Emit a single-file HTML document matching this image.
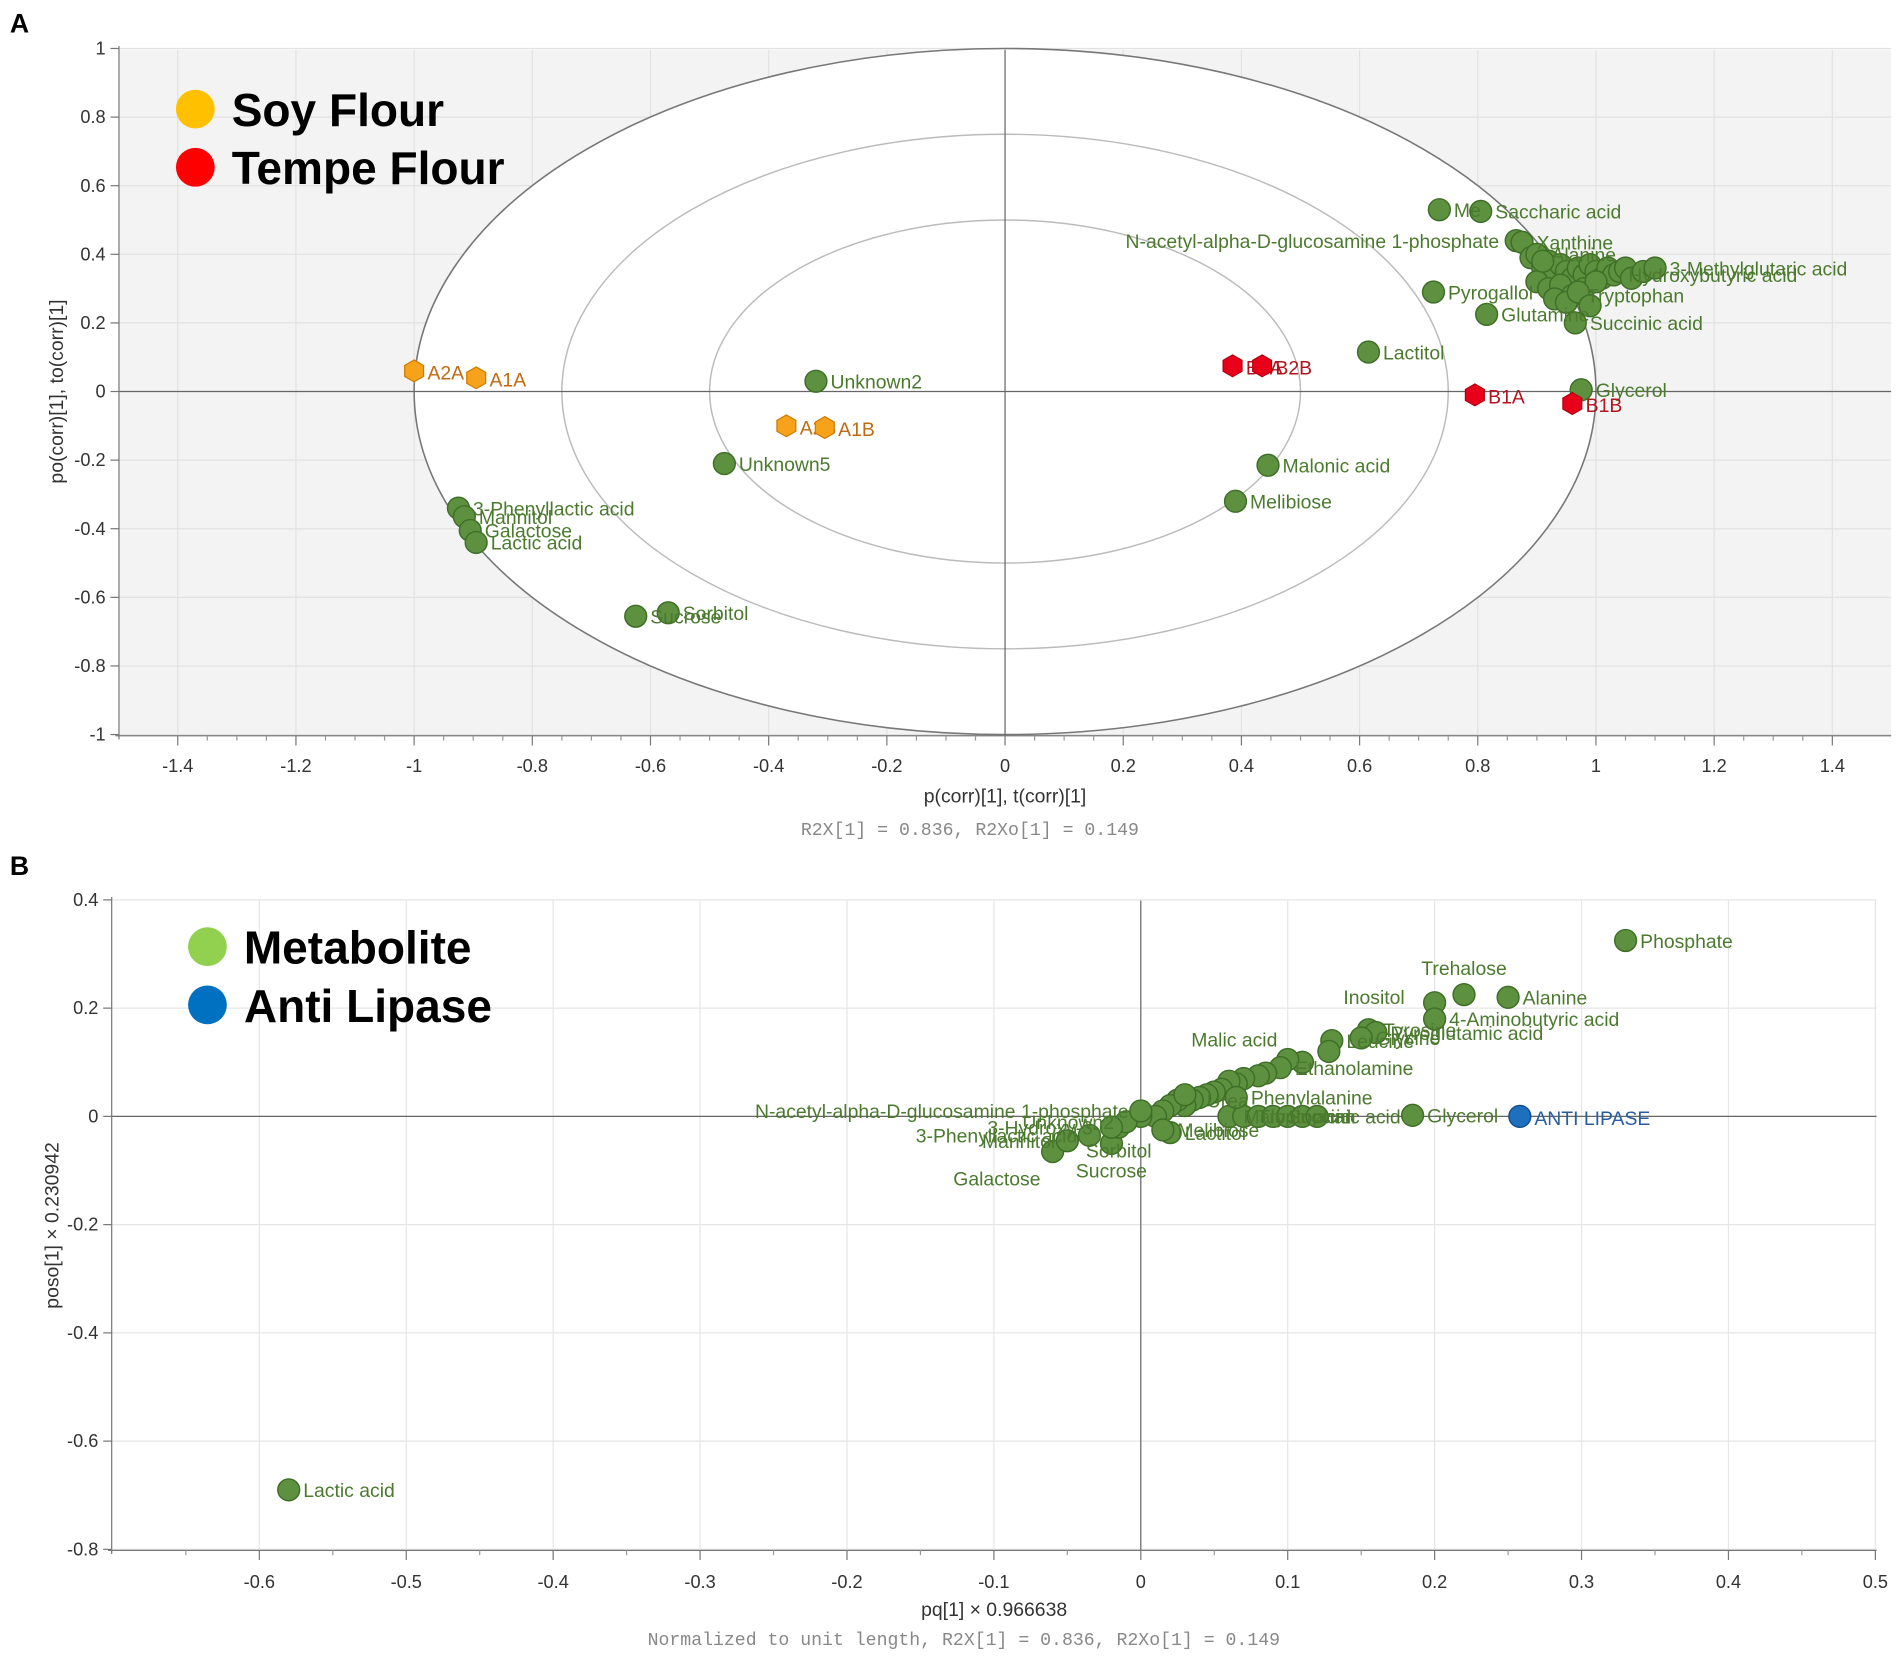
<!DOCTYPE html>
<html><head><meta charset="utf-8"><style>
html,body{margin:0;padding:0;background:#fff}
svg{display:block}
text{font-family:"Liberation Sans",sans-serif}
text.mono{font-family:"Liberation Mono",monospace}
</style></head><body>
<svg id="s" width="1901" height="1657" viewBox="0 0 1568 1367" xmlns="http://www.w3.org/2000/svg">
<text x="8" y="27" font-size="22" font-weight="bold">A</text>
<text x="8" y="722" font-size="22" font-weight="bold">B</text>
<g id="ga"></g>
<g id="gb"></g>
</svg>
<script>
// ---- Panel A data ----
const aGreenX=[0.735,0.805,0.865,0.875,0.725,0.815,0.965,0.615,0.975,0.445,0.39,-0.32,-0.475,-0.925,-0.915,-0.905,-0.895,-0.625,-0.57,
0.89,0.9,0.91,0.92,0.93,0.94,0.95,0.96,0.97,0.98,0.99,1.0,1.01,1.02,1.03,1.04,1.05,1.06,1.08,1.1,0.9,0.92,0.94,0.96,0.98,1.0,0.93,0.95,0.97,0.99,0.91];
const aGreenY=[0.53,0.525,0.44,0.435,0.29,0.225,0.2,0.115,0.005,-0.215,-0.32,0.03,-0.21,-0.34,-0.365,-0.405,-0.44,-0.655,-0.645,
0.39,0.4,0.36,0.38,0.34,0.37,0.35,0.33,0.36,0.34,0.37,0.35,0.33,0.36,0.34,0.35,0.36,0.33,0.35,0.36,0.32,0.3,0.31,0.28,0.3,0.32,0.27,0.26,0.29,0.25,0.38];
const aGreenLbl=["Me","Saccharic acid","N-acetyl-alpha-D-glucosamine 1-phosphate","Xanthine","Pyrogallol","Glutamine","Succinic acid","Lactitol","Glycerol","Malonic acid","Melibiose","Unknown2","Unknown5","3-Phenyllactic acid","Mannitol","Galactose","Lactic acid","Sucrose","Sorbitol",
"","Alanine","","","","","","","","","","","","","Hydroxybutyric acid","","","","","3-Methylglutaric acid","","","","Tryptophan","","","","","","",""];
const aSoyX=[-1.0,-0.895,-0.37,-0.305];
const aSoyY=[0.06,0.04,-0.1,-0.105];
const aSoyLbl=["A2A","A1A","A2B","A1B"];
const aTempX=[0.385,0.435,0.795,0.96];
const aTempY=[0.075,0.075,-0.01,-0.035];
const aTempLbl=["B2A","B2B","B1A","B1B"];
const aXTicks=[-1.4,-1.2,-1,-0.8,-0.6,-0.4,-0.2,0,0.2,0.4,0.6,0.8,1,1.2,1.4];
const aYTicks=[1,0.8,0.6,0.4,0.2,0,-0.2,-0.4,-0.6,-0.8,-1];
// ---- Panel B data ----
const bX=[0.33,0.22,0.25,0.2,0.2,0.155,0.16,0.15,0.13,0.128,0.185,-0.58,-0.06,-0.05,-0.035,-0.02,-0.015,
0.11,0.1,0.095,0.085,0.08,0.07,0.065,0.06,0.055,0.05,0.045,0.04,0.035,0.03,0.025,0.02,0.015,0.01,0.0,-0.01,-0.02,0.02,0.03,0.06,0.07,0.08,0.09,0.1,0.11,0.12,0.015,0.0,0.065];
const bY=[0.325,0.225,0.22,0.21,0.18,0.16,0.155,0.145,0.14,0.12,0.002,-0.69,-0.065,-0.045,-0.035,-0.05,-0.02,
0.1,0.105,0.09,0.08,0.075,0.07,0.06,0.065,0.05,0.045,0.04,0.035,0.03,0.02,0.03,0.02,0.01,0.0,0.0,-0.01,-0.02,-0.03,0.04,0.0,0.0,0.0,0.0,0.0,0.0,0.0,-0.025,0.01,0.035];
const bLbl=["Phosphate","Trehalose","Alanine","Inositol","4-Aminobutyric acid","Tyrosine","Pyroglutamic acid","Glycine","Leucine","Malic acid","Glycerol","Lactic acid","Galactose","Mannitol","3-Phenyllactic acid","Sucrose","Sorbitol",
"","","Ethanolamine","","","","","","","","","","Urea","","","","","","","Unknown2","3-Hydroxy-3-","Lactitol","","Malonic acid","Tryptophan","","Succinic acid","","","","Melibiose","N-acetyl-alpha-D-glucosamine 1-phosphate","Phenylalanine"];
const bAntiX=[0.258];
const bAntiY=[0.0];
const bAntiLbl=["ANTI LIPASE"];
const bXTicks=[-0.6,-0.5,-0.4,-0.3,-0.2,-0.1,0,0.1,0.2,0.3,0.4,0.5];
const bYTicks=[0.4,0.2,0,-0.2,-0.4,-0.6,-0.8];

const NS="http://www.w3.org/2000/svg";
function mk(p,t,a){const e=document.createElementNS(NS,t);for(const k in a)e.setAttribute(k,a[k]);p.appendChild(e);return e;}
function lab(v){return String(v);}

// Panel A
const ga=document.getElementById('ga');
const ax=v=>829+v*487.5, ay=v=>323-v*283;
let r=mk(ga,'rect',{x:98,y:41,width:1462,height:566,fill:'#f3f3f3'});


aXTicks.forEach(t=>{const l=mk(ga,'line',{x1:ax(t),x2:ax(t),y1:41,y2:607,stroke:'#e2e2e2'});

});
aYTicks.forEach(t=>{const l=mk(ga,'line',{x1:98,x2:1560,y1:ay(t),y2:ay(t),stroke:'#e2e2e2'});

});
[1,0.75,0.5].forEach((k,i)=>{const e=mk(ga,'ellipse',{cx:ax(0),cy:ay(0),rx:487.5*k,ry:283*k,fill:'#fff',stroke:i==0?'#777':'#bbb','stroke-width':i==0?1.3:1.2});

});
mk(ga,'line',{x1:ax(0),x2:ax(0),y1:41,y2:607,stroke:'#666'});
mk(ga,'line',{x1:98,x2:1560,y1:ay(0),y2:ay(0),stroke:'#666'});
mk(ga,'line',{x1:98,x2:98,y1:38,y2:610,stroke:'#777'});
mk(ga,'line',{x1:95,x2:1560,y1:607,y2:607,stroke:'#777'});
aXTicks.forEach(t=>{mk(ga,'line',{x1:ax(t),x2:ax(t),y1:607,y2:615,stroke:'#777'});
for(let m=1;m<4;m++){const xm=ax(t+0.05*m);if(t<1.4&&xm<1560)mk(ga,'line',{x1:xm,x2:xm,y1:607,y2:611,stroke:'#999'});}
const tx=mk(ga,'text',{x:ax(t),y:637,'font-size':15,'text-anchor':'middle',fill:'#333'});tx.textContent=lab(t);

});
aYTicks.forEach(t=>{mk(ga,'line',{x1:91,x2:98,y1:ay(t),y2:ay(t),stroke:'#777'});
const tx=mk(ga,'text',{x:87,y:ay(t)+5,'font-size':15,'text-anchor':'end',fill:'#333'});tx.textContent=lab(t);

});
let t1=mk(ga,'text',{x:829,y:662,'font-size':16,'text-anchor':'middle',fill:'#333'});t1.textContent='p(corr)[1], t(corr)[1]';


let t2=mk(ga,'text',{x:800,y:689,'font-size':15,'text-anchor':'middle',fill:'#888',class:'mono'});t2.textContent='R2X[1] = 0.836, R2Xo[1] = 0.149';


let t3=mk(ga,'text',{x:0,y:0,'font-size':16,'text-anchor':'middle',fill:'#333',transform:'translate(52,323) rotate(-90)'});t3.textContent='po(corr)[1], to(corr)[1]';


aGreenX.forEach((v,i)=>{const c=mk(ga,'circle',{cx:ax(v),cy:ay(aGreenY[i]),r:9,fill:'#5d9140',stroke:'#3f6e27','stroke-width':1.2});

});
aGreenX.forEach((v,i)=>{if(!aGreenLbl[i])return;const big=aGreenLbl[i].startsWith('N-acetyl');
const tx=mk(ga,'text',{x:big?ax(v)-14:ax(v)+12,y:ay(aGreenY[i])+6,'font-size':16,fill:'#4b7a2e','text-anchor':big?'end':'start'});tx.textContent=aGreenLbl[i];

});
function hex(g,x,y,fill,stroke){let p=[];for(let k=0;k<6;k++){const a=Math.PI/3*k+Math.PI/6;p.push((x+9*Math.cos(a)).toFixed(1)+','+(y+9*Math.sin(a)).toFixed(1));}
return mk(g,'polygon',{points:p.join(' '),fill:fill,stroke:stroke,'stroke-width':1});}
aSoyX.forEach((v,i)=>{const h=hex(ga,ax(v),ay(aSoyY[i]),'#f7a21b','#d07a00');


const tx=mk(ga,'text',{x:ax(v)+11,y:ay(aSoyY[i])+7,'font-size':16,fill:'#c06a10'});tx.textContent=aSoyLbl[i];

});
aTempX.forEach((v,i)=>{const h=hex(ga,ax(v),ay(aTempY[i]),'#e8001a','#b00010');


const tx=mk(ga,'text',{x:ax(v)+11,y:ay(aTempY[i])+7,'font-size':16,fill:'#b0141c'});tx.textContent=aTempLbl[i];

});
let lg=mk(ga,'g',{});


mk(lg,'circle',{cx:161,cy:90,r:16,fill:'#ffc000'});
let l1=mk(lg,'text',{x:191,y:104,'font-size':38,'font-weight':'bold',fill:'#000'});l1.textContent='Soy Flour';
mk(lg,'circle',{cx:161,cy:138,r:16,fill:'#ff0000'});
let l2=mk(lg,'text',{x:191,y:152,'font-size':38,'font-weight':'bold',fill:'#000'});l2.textContent='Tempe Flour';

// Panel B
const gb=document.getElementById('gb');
const bx=v=>941+v*1212, by=v=>921-v*446.5;
bXTicks.forEach(t=>{const l=mk(gb,'line',{x1:bx(t),x2:bx(t),y1:743,y2:1279,stroke:'#e6e6e6'});

});
bYTicks.forEach(t=>{const l=mk(gb,'line',{x1:92,x2:1548,y1:by(t),y2:by(t),stroke:'#e6e6e6'});

});
mk(gb,'line',{x1:bx(0),x2:bx(0),y1:743,y2:1279,stroke:'#666'});
mk(gb,'line',{x1:92,x2:1548,y1:by(0),y2:by(0),stroke:'#666'});
mk(gb,'line',{x1:92,x2:92,y1:740,y2:1282,stroke:'#777'});
mk(gb,'line',{x1:89,x2:1548,y1:1279,y2:1279,stroke:'#777'});
bXTicks.forEach(t=>{mk(gb,'line',{x1:bx(t),x2:bx(t),y1:1279,y2:1287,stroke:'#777'});
const xm=bx(t-0.05);if(xm>92)mk(gb,'line',{x1:xm,x2:xm,y1:1279,y2:1283,stroke:'#999'});
const tx=mk(gb,'text',{x:bx(t),y:1310,'font-size':15,'text-anchor':'middle',fill:'#333'});tx.textContent=lab(t);

});
bYTicks.forEach(t=>{mk(gb,'line',{x1:85,x2:92,y1:by(t),y2:by(t),stroke:'#777'});
const tx=mk(gb,'text',{x:81,y:by(t)+5,'font-size':15,'text-anchor':'end',fill:'#333'});tx.textContent=lab(t);

});
let u1=mk(gb,'text',{x:820,y:1333,'font-size':16,'text-anchor':'middle',fill:'#333'});u1.textContent='pq[1] × 0.966638';


let u2=mk(gb,'text',{x:795,y:1357,'font-size':15,'text-anchor':'middle',fill:'#888',class:'mono'});u2.textContent='Normalized to unit length, R2X[1] = 0.836, R2Xo[1] = 0.149';


let u3=mk(gb,'text',{x:0,y:0,'font-size':16,'text-anchor':'middle',fill:'#333',transform:'translate(48,1011) rotate(-90)'});u3.textContent='poso[1] × 0.230942';


bX.forEach((v,i)=>{const c=mk(gb,'circle',{cx:bx(v),cy:by(bY[i]),r:9,fill:'#5d9140',stroke:'#3f6e27','stroke-width':1.2});

});
const leftSet=["Trehalose","Inositol","Malic acid","Galactose","Sucrose","Sorbitol","N-acetyl-alpha-D-glucosamine 1-phosphate","3-Hydroxy-3-","3-Phenyllactic acid","Mannitol","Unknown2"];
bX.forEach((v,i)=>{if(!bLbl[i])return;const L=bLbl[i];let x=bx(v)+12,y=by(bY[i])+6,anc='start';
if(leftSet.includes(L)){anc='end';x=bx(v)-10;}
if(L=='Trehalose'){anc='middle';x=bx(v);y=by(bY[i])-16;}
if(L=='Inositol'){anc='middle';x=bx(v)-50;y=by(bY[i])+1;}
if(L=='Malic acid'){anc='middle';x=bx(v)-78;y=by(bY[i])-4;}
if(L=='Galactose'){x=bx(v)-10;y=by(bY[i])+28;}
if(L=='Sucrose'){anc='middle';y=by(bY[i])+28;x=bx(v);}
if(L=='Sorbitol'){anc='middle';y=by(bY[i])+25;x=bx(v);}
const tx=mk(gb,'text',{x:x,y:y,'font-size':16,fill:'#4b7a2e','text-anchor':anc});tx.textContent=L;

});
bAntiX.forEach((v,i)=>{const c=mk(gb,'circle',{cx:bx(v),cy:by(bAntiY[i]),r:9,fill:'#1f6fbf',stroke:'#15508c','stroke-width':1.2});


const tx=mk(gb,'text',{x:bx(v)+12,y:by(bAntiY[i])+7,'font-size':16,fill:'#2a5da0'});tx.textContent=bAntiLbl[i];

});
let lb=mk(gb,'g',{});


mk(lb,'circle',{cx:171,cy:781,r:16,fill:'#92d050'});
let m1=mk(lb,'text',{x:201,y:795,'font-size':38,'font-weight':'bold',fill:'#000'});m1.textContent='Metabolite';
mk(lb,'circle',{cx:171,cy:829,r:16,fill:'#0070c0'});
let m2=mk(lb,'text',{x:201,y:843,'font-size':38,'font-weight':'bold',fill:'#000'});m2.textContent='Anti Lipase';
</script>
</body></html>
